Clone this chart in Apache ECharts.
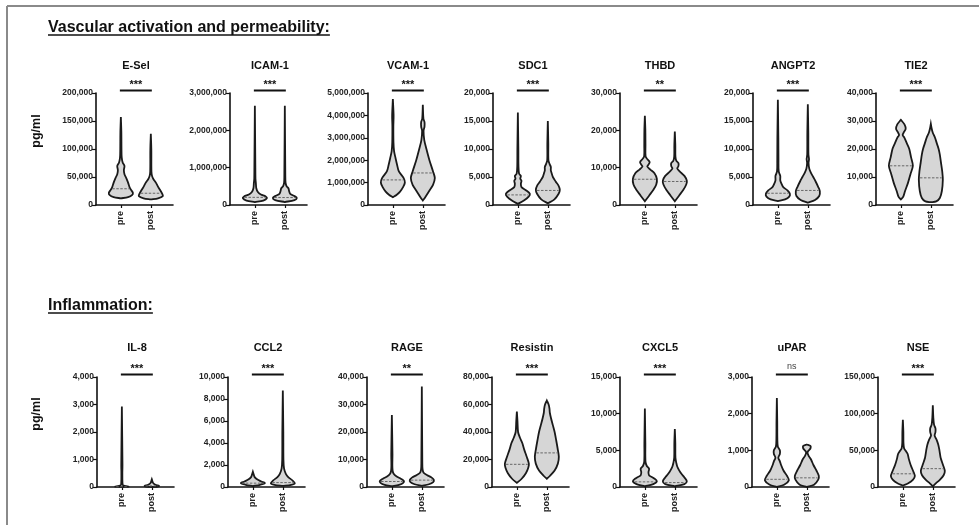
<!DOCTYPE html>
<html>
<head>
<meta charset="utf-8">
<script src="https://cdn.jsdelivr.net/npm/echarts@6/dist/echarts.min.js"></script>
<style>
  html, body { margin: 0; padding: 0; background: #fff; }
  #chart { width: 979px; height: 525px; }
</style>
</head>
<body>
<div id="chart"></div>
<script>
// ---- data -------------------------------------------------------------
const groups = ['pre', 'post'];

const sections = ['Vascular activation and permeability:', 'Inflammation:'];

const markers = ['E-Sel', 'ICAM-1', 'VCAM-1', 'SDC1', 'THBD', 'ANGPT2', 'TIE2',
                 'IL-8', 'CCL2', 'RAGE', 'Resistin', 'CXCL5', 'uPAR', 'NSE'];

const axisMax  = [200000, 3000000, 5000000, 20000, 30000, 20000, 40000,
                  4000, 10000, 40000, 80000, 15000, 3000, 150000];
const axisStep = [50000, 1000000, 1000000, 5000, 10000, 5000, 10000,
                  1000, 2000, 10000, 20000, 5000, 1000, 50000];

const significance = ['***', '***', '***', '***', '**', '***', '***',
                      '***', '***', '**', '***', '***', 'ns', '***'];

// medians [pre, post]
const medians = [
  [29000, 21000], [205000, 200000], [1120000, 1430000], [1800, 2600],
  [6900, 6300], [2100, 2600], [14000, 9700],
  [10, 40], [350, 400], [2000, 2500], [16500, 24800], [700, 600],
  [210, 250], [18000, 25000]
];

// violin outlines: [value, relative half-width] from bottom to top, [pre, post]
const violinESel = [
  [[12000,0],[14000,0.6],[18000,0.95],[22000,1],[27000,0.85],[32000,0.72],[40000,0.6],[48000,0.45],[55000,0.3],[62000,0.25],[70000,0.3],[76000,0.15],[85000,0.07],[100000,0.05],[130000,0.04],[157000,0]],
  [[10000,0],[12000,0.6],[16000,1],[20000,0.95],[25000,0.82],[32000,0.62],[40000,0.42],[46000,0.22],[52000,0.1],[60000,0.05],[100000,0.04],[127000,0]]
];
const violinICAM1 = [
  [[80000,0],[120000,0.7],[180000,1],[230000,0.9],[280000,0.5],[350000,0.25],[450000,0.12],[600000,0.08],[700000,0.05],[1000000,0.04],[2660000,0]],
  [[80000,0],[130000,0.8],[190000,1],[240000,0.8],[300000,0.45],[380000,0.35],[450000,0.3],[500000,0.15],[600000,0.06],[800000,0.04],[2660000,0]]
];
const violinVCAM1 = [
  [[350000,0],[450000,0.3],[600000,0.6],[800000,0.85],[1000000,1],[1200000,0.9],[1500000,0.5],[1800000,0.35],[2100000,0.22],[2400000,0.1],[2800000,0.05],[3500000,0.04],[4000000,0.06],[4730000,0]],
  [[200000,0],[350000,0.2],[600000,0.5],[900000,0.85],[1200000,1],[1500000,0.85],[2000000,0.55],[2500000,0.3],[2900000,0.12],[3300000,0.06],[3500000,0.14],[3700000,0.14],[3850000,0.05],[4470000,0]]
];
const violinSDC1 = [
  [[200,0],[800,0.5],[1500,0.9],[2000,1],[2600,0.7],[3200,0.3],[3800,0.25],[4300,0.3],[4700,0.2],[5200,0.25],[5600,0.1],[7000,0.05],[10000,0.04],[16500,0]],
  [[300,0],[1000,0.55],[2000,0.9],[2700,1],[3500,0.88],[4200,0.65],[5000,0.42],[5600,0.33],[6200,0.25],[6800,0.25],[7300,0.15],[8000,0.05],[11000,0.04],[15000,0]]
];
const violinTHBD = [
  [[1000,0],[2500,0.35],[4000,0.7],[5500,0.95],[7000,1],[8500,0.8],[9500,0.45],[10300,0.2],[10800,0.3],[11500,0.4],[12300,0.2],[13000,0.06],[16000,0.05],[20000,0.04],[23900,0]],
  [[1000,0],[2500,0.35],[4000,0.7],[5500,0.95],[6500,1],[7800,0.8],[9000,0.4],[9800,0.2],[10400,0.3],[11200,0.3],[11900,0.12],[13000,0.05],[16000,0.04],[19700,0]]
];
const violinANGPT2 = [
  [[700,0],[1000,0.6],[1500,0.95],[2000,1],[2600,0.8],[3200,0.45],[3800,0.3],[4400,0.2],[5200,0.2],[6000,0.07],[8000,0.05],[12000,0.04],[18800,0]],
  [[400,0],[900,0.6],[1600,0.95],[2500,1],[3300,0.85],[4200,0.65],[5000,0.45],[5800,0.25],[6500,0.12],[7500,0.06],[8200,0.1],[9000,0.05],[13000,0.04],[18000,0]]
];
const violinTIE2 = [
  [[2000,0],[3000,0.2],[5000,0.35],[8000,0.6],[11000,0.8],[14000,1],[17000,0.85],[20000,0.7],[22000,0.5],[24000,0.3],[25000,0.15],[26000,0.25],[27200,0.4],[28800,0.3],[30400,0]],
  [[1000,0],[1300,0.45],[2500,0.75],[5000,0.92],[9000,1],[12000,0.95],[15000,0.85],[18000,0.75],[20000,0.65],[22000,0.5],[24000,0.35],[26000,0.15],[27500,0.06],[29000,0]]
];
const violinIL8 = [
  [[0,0],[10,0.55],[25,0.45],[50,0.15],[100,0.06],[500,0.04],[800,0.05],[2930,0]],
  [[0,0],[15,0.5],[40,0.6],[80,0.3],[150,0.1],[280,0]]
];
const violinCCL2 = [
  [[80,0],[200,0.6],[350,1],[500,0.7],[700,0.35],[900,0.15],[1100,0.08],[1380,0]],
  [[100,0],[200,0.7],[350,1],[600,0.8],[900,0.45],[1200,0.25],[1700,0.1],[2500,0.05],[5000,0.04],[8780,0]]
];
const violinRAGE = [
  [[300,0],[800,0.6],[1500,0.95],[2200,1],[3000,0.75],[3800,0.4],[4800,0.15],[6000,0.06],[8000,0.04],[12000,0.05],[26200,0]],
  [[400,0],[1000,0.6],[1800,0.95],[2600,1],[3500,0.8],[4300,0.45],[5200,0.15],[6500,0.06],[9000,0.04],[36500,0]]
];
const violinResistin = [
  [[3000,0],[6000,0.4],[10000,0.75],[14000,0.95],[17000,1],[22000,0.82],[27000,0.62],[32000,0.45],[36000,0.25],[40000,0.1],[48000,0.05],[54900,0]],
  [[6000,0],[8000,0.25],[12000,0.65],[17000,0.92],[22000,1],[28000,0.9],[34000,0.78],[40000,0.65],[45000,0.5],[50000,0.35],[54000,0.25],[57000,0.22],[60000,0.15],[62900,0]]
];
const violinCXCL5 = [
  [[100,0],[400,0.7],[800,1],[1200,0.75],[1600,0.35],[2000,0.3],[2500,0.35],[2900,0.15],[3500,0.05],[6000,0.04],[10700,0]],
  [[100,0],[400,0.8],[800,1],[1300,0.8],[1800,0.55],[2300,0.35],[2800,0.2],[3300,0.12],[4000,0.05],[6000,0.04],[7900,0]]
];
const violinUPAR = [
  [[0,0],[60,0.6],[180,1],[300,0.85],[450,0.55],[600,0.35],[700,0.25],[800,0.12],[900,0.25],[1000,0.25],[1100,0.08],[1300,0.04],[1800,0.03],[2430,0]],
  [[0,0],[60,0.6],[200,0.95],[300,1],[450,0.8],[600,0.55],[750,0.35],[850,0.15],[950,0.06],[1050,0.3],[1120,0.3],[1160,0]]
];
const violinNSE = [
  [[2000,0],[5000,0.45],[10000,0.85],[15000,1],[20000,0.9],[30000,0.65],[38000,0.5],[45000,0.4],[49000,0.25],[53000,0.1],[60000,0.05],[75000,0.04],[91800,0]],
  [[1000,0],[5000,0.25],[10000,0.6],[16000,0.9],[22000,1],[30000,0.85],[40000,0.65],[50000,0.55],[58000,0.45],[65000,0.3],[70000,0.15],[75000,0.22],[80000,0.22],[85000,0.1],[95000,0.04],[111400,0]]
];

const violins = [violinESel, violinICAM1, violinVCAM1, violinSDC1, violinTHBD, violinANGPT2, violinTIE2,
                 violinIL8, violinCCL2, violinRAGE, violinResistin, violinCXCL5, violinUPAR, violinNSE];

// ---- layout -----------------------------------------------------------
const FONT = '"Liberation Sans", Arial, sans-serif';
const panelLeft = [96, 230, 368, 493, 620, 753, 876,
                   97, 228, 367, 492, 620, 752, 878];
const rowTop = [93, 377];
const rowHeight = [112, 110];
const PANEL_W = 77;
const X_MAX = 2.57;            // x axis length in group spacings
const GROUP_X = [0.83, 1.83];  // pre / post positions along the x axis
const HALF_W = 12;             // widest half-violin in px
const HEADING_FONT = 'bold 16px ' + FONT;

function fmt(v) { return Math.round(v).toLocaleString('en-US'); }

function widthAt(profile, v) {
  for (let k = 1; k < profile.length; k++) {
    const a = profile[k - 1], b = profile[k];
    if (v >= a[0] && v <= b[0]) {
      const t = (v - a[0]) / (b[0] - a[0] || 1);
      return a[1] + t * (b[1] - a[1]);
    }
  }
  return 0;
}

const grids = [], xAxes = [], yAxes = [], series = [], graphics = [];

markers.forEach((name, i) => {
  const row = i < 7 ? 0 : 1;
  grids.push({ left: panelLeft[i], top: rowTop[row], width: PANEL_W, height: rowHeight[row] });

  xAxes.push({
    gridIndex: i, type: 'value', min: 0, max: X_MAX,
    axisLine: { show: true, lineStyle: { color: '#111', width: 1.6 } },
    axisTick: { show: true, customValues: GROUP_X, length: 3, lineStyle: { color: '#111', width: 1.2 } },
    axisLabel: {
      customValues: GROUP_X, rotate: 90, margin: 6,
      formatter: v => (Math.abs(v - GROUP_X[0]) < 1e-6 ? groups[0] : groups[1]),
      fontFamily: FONT, fontSize: 9, fontWeight: 'bold', color: '#222'
    },
    splitLine: { show: false }
  });

  yAxes.push({
    gridIndex: i, type: 'value', min: 0, max: axisMax[i], interval: axisStep[i],
    axisLine: { show: true, lineStyle: { color: '#111', width: 1.6 } },
    axisTick: { show: true, length: 4, lineStyle: { color: '#111', width: 1.2 } },
    axisLabel: { formatter: fmt, margin: 3, fontFamily: FONT, fontSize: 8.5, fontWeight: 'bold', color: '#222' },
    splitLine: { show: false }
  });

  // violins
  series.push({
    type: 'custom', xAxisIndex: i, yAxisIndex: i, clip: false, silent: true,
    data: groups.map((g, gi) => [GROUP_X[gi], medians[i][gi], gi]),
    renderItem: (params, api) => {
      const gi = api.value(2);
      const x = api.value(0);
      const profile = violins[i][gi];
      const left = [], right = [];
      profile.forEach(([v, w]) => {
        const p = api.coord([x, v]);
        left.push([p[0] - w * HALF_W, p[1]]);
        right.push([p[0] + w * HALF_W, p[1]]);
      });
      const pts = left.concat(right.reverse());
      const med = api.value(1);
      const mp = api.coord([x, med]);
      const mw = widthAt(profile, med) * HALF_W;
      return {
        type: 'group',
        children: [
          { type: 'polygon', shape: { points: pts, smooth: 0.3 },
            style: { fill: '#d6d6d6', stroke: '#1a1a1a', lineWidth: 1.8 } },
          { type: 'line', shape: { x1: mp[0] - mw + 1, y1: mp[1], x2: mp[0] + mw - 1, y2: mp[1] },
            style: { stroke: '#666', lineWidth: 1, lineDash: [2.5, 1.5] } }
        ]
      };
    }
  });

  // significance bracket
  series.push({
    type: 'custom', xAxisIndex: i, yAxisIndex: i, clip: false, silent: true,
    data: [[GROUP_X[0], GROUP_X[1], axisMax[i]]],
    renderItem: (params, api) => {
      const a = api.coord([api.value(0), api.value(2)]);
      const b = api.coord([api.value(1), api.value(2)]);
      const y = a[1] - 2.5;
      const ns = significance[i] === 'ns';
      return {
        type: 'group',
        children: [
          { type: 'line', shape: { x1: a[0] - 1, y1: y, x2: b[0] + 1, y2: y },
            style: { stroke: '#111', lineWidth: 2 } },
          { type: 'text', x: (a[0] + b[0]) / 2, y: y - (ns ? 8 : 6),
            style: { text: significance[i], align: 'center', verticalAlign: 'middle',
                     font: (ns ? 'normal 9px ' : 'bold 11px ') + FONT, fill: ns ? '#444' : '#111' } }
        ]
      };
    }
  });

  // panel title
  graphics.push({
    type: 'text', x: panelLeft[i] + 40, y: row === 0 ? 66 : 348,
    style: { text: name, align: 'center', verticalAlign: 'middle', font: 'bold 11px ' + FONT, fill: '#111' }
  });
});

// section headings with underline
const headingY = [28, 306];
sections.forEach((txt, r) => {
  graphics.push({
    type: 'text', x: 48, y: headingY[r],
    style: { text: txt, align: 'left', verticalAlign: 'middle', font: HEADING_FONT, fill: '#111' }
  });
});

// y-axis unit labels
[131, 414].forEach(y => {
  graphics.push({
    type: 'text', x: 37, y: y, rotation: Math.PI / 2,
    style: { text: 'pg/ml', align: 'center', verticalAlign: 'middle', font: 'bold 12.5px ' + FONT, fill: '#111' }
  });
});

// page frame
graphics.push({ type: 'line', shape: { x1: 7, y1: 6, x2: 979, y2: 6 }, style: { stroke: '#8a8a8a', lineWidth: 2 } });
graphics.push({ type: 'line', shape: { x1: 7, y1: 6, x2: 7, y2: 525 }, style: { stroke: '#8a8a8a', lineWidth: 2 } });

// underline the section headings to the measured text width
const measure = document.createElement('canvas').getContext('2d');
measure.font = HEADING_FONT;
sections.forEach((txt, r) => {
  const w = measure.measureText(txt).width;
  graphics.push({ type: 'line', shape: { x1: 48, y1: headingY[r] + 7, x2: 48 + w, y2: headingY[r] + 7 },
                  style: { stroke: '#111', lineWidth: 1.5 } });
});

const chart = echarts.init(document.getElementById('chart'), null, { renderer: 'canvas' });
chart.setOption({
  animation: false,
  backgroundColor: '#fff',
  grid: grids, xAxis: xAxes, yAxis: yAxes, series: series, graphic: graphics
});
</script>
</body>
</html>
